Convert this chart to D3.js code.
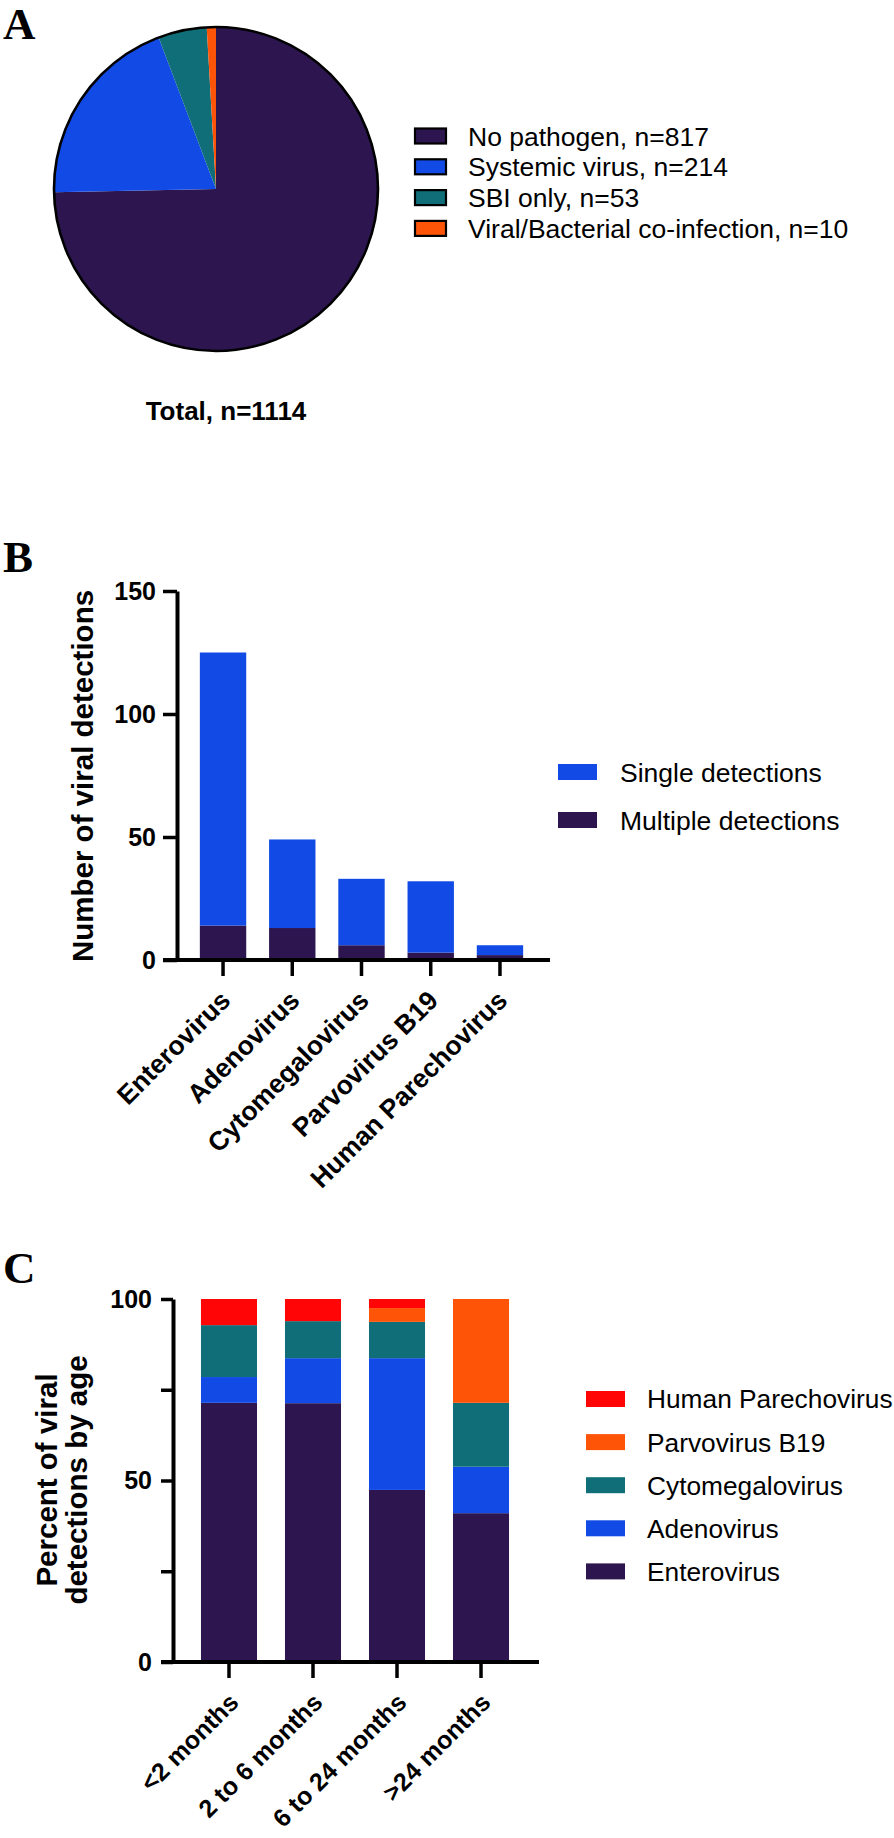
<!DOCTYPE html>
<html><head><meta charset="utf-8">
<script src="https://cdn.jsdelivr.net/npm/d3@7"></script>
<style>body{margin:0;background:#fff} svg{display:block}</style>
</head><body>
<svg id="c" width="894" height="1838"></svg>
<script>
// ---------- data ----------
const pieCategories = ["No pathogen", "Systemic virus", "SBI only", "Viral/Bacterial co-infection"];
const pieCounts = [817, 214, 53, 10];
const pieTotal = 1114;
const pieColors = ["#2d1650", "#124ae6", "#0f6e78", "#fd5408"];

const virusCategories = ["Enterovirus", "Adenovirus", "Cytomegalovirus", "Parvovirus B19", "Human Parechovirus"];
const multipleDetections = [14, 13, 6, 3, 2];
const singleDetections = [111, 36, 27, 29, 4];
const countTicks = [0, 50, 100, 150];
const detectionSeries = ["Multiple detections", "Single detections"];
const detectionColors = ["#2d1650", "#124ae6"];

const ageGroups = ["<2 months", "2 to 6 months", "6 to 24 months", ">24 months"];
const pctEnterovirus = [71.4, 71.3, 47.4, 41.0];
const pctAdenovirus = [7.1, 12.4, 36.3, 12.8];
const pctCytomegalovirus = [14.3, 10.2, 10.0, 17.6];
const pctParvovirusB19 = [0, 0, 3.8, 28.6];
const pctHumanParechovirus = [7.2, 6.1, 2.5, 0];
const ageSeries = ["Enterovirus", "Adenovirus", "Cytomegalovirus", "Parvovirus B19", "Human Parechovirus"];
const ageColors = ["#2d1650", "#124ae6", "#0f6e78", "#fd5408", "#ff0505"];
const percentTicks = [0, 25, 50, 75, 100];
const percentLabels = [0, 50, 100];

// ---------- setup ----------
const svg = d3.select("#c");
const SANS = "'Liberation Sans', Arial, Helvetica, sans-serif";
const SERIF = "'Liberation Serif', 'Times New Roman', serif";

function panelLetter(t, y) {
  svg.append("text").attr("x", 3).attr("y", y).text(t)
    .attr("font-family", SERIF).attr("font-weight", "bold").attr("font-size", 45).attr("fill", "#000");
}

// ---------- Panel A: pie ----------
panelLetter("A", 39);
const cx = 216, cy = 189, R = 162;
const pieGen = d3.pie().sort(null).value(d => d);
const arcGen = d3.arc().innerRadius(0).outerRadius(R);
const gA = svg.append("g").attr("transform", `translate(${cx},${cy})`);
gA.selectAll("path.slice").data(pieGen(pieCounts)).join("path")
  .attr("class", "slice").attr("d", arcGen).attr("fill", (d, i) => pieColors[i]);
gA.append("circle").attr("r", R).attr("fill", "none").attr("stroke", "#000").attr("stroke-width", 2.6);

const legA = svg.append("g");
pieCategories.forEach((c, i) => {
  const yc = 136 + i * 30.8;
  legA.append("rect").attr("x", 415).attr("y", yc - 7.5).attr("width", 31).attr("height", 15)
    .attr("fill", pieColors[i]).attr("stroke", "#000").attr("stroke-width", 2.2);
  legA.append("text").attr("x", 468).attr("y", yc).attr("dy", "0.36em")
    .attr("font-family", SANS).attr("font-size", 26.5).attr("fill", "#000")
    .text(`${c}, n=${pieCounts[i]}`);
});
svg.append("text").attr("x", 226).attr("y", 420).attr("text-anchor", "middle")
  .attr("font-family", SANS).attr("font-weight", "bold").attr("font-size", 26).text(`Total, n=${pieTotal}`);

// ---------- Panel B: stacked counts ----------
panelLetter("B", 572);
const yB = d3.scaleLinear().domain([0, 150]).range([960, 591]);
const xB = d3.scaleBand().domain(virusCategories).range([177, 546]).paddingInner(0.33).paddingOuter(0.33);
const tableB = virusCategories.map((v, i) => ({ cat: v, "Multiple detections": multipleDetections[i], "Single detections": singleDetections[i] }));
const stackB = d3.stack().keys(detectionSeries)(tableB);
const gB = svg.append("g");
stackB.forEach((layer, li) => {
  gB.selectAll(null).data(layer).join("rect")
    .attr("x", d => xB(d.data.cat)).attr("width", xB.bandwidth())
    .attr("y", d => yB(d[1])).attr("height", d => yB(d[0]) - yB(d[1]))
    .attr("fill", detectionColors[li]);
});

function styleAxis(g) {
  g.selectAll("path.domain").attr("stroke", "#000").attr("stroke-width", 4);
  g.selectAll(".tick line").attr("stroke", "#000").attr("stroke-width", 3.5);
  g.selectAll(".tick text").attr("font-family", SANS).attr("font-weight", "bold").attr("font-size", 25).attr("fill", "#000");
}
const yAxB = svg.append("g").attr("transform", "translate(177,0)")
  .call(d3.axisLeft(yB).tickValues(countTicks).tickSize(14).tickSizeOuter(0).tickPadding(7));
styleAxis(yAxB);
svg.append("line").attr("x1", 163).attr("x2", 550).attr("y1", yB(0)).attr("y2", yB(0))
  .attr("stroke", "#000").attr("stroke-width", 4);
const xAxB = svg.append("g").attr("transform", `translate(0,${yB(0)})`)
  .call(d3.axisBottom(xB).tickSize(16).tickSizeOuter(0));
xAxB.select("path.domain").remove();
styleAxis(xAxB);
xAxB.selectAll(".tick text").attr("y", 0).attr("dy", 0).attr("text-anchor", "end")
  .attr("font-size", 26.5).attr("transform", "translate(9,42) rotate(-45)");

svg.append("text").attr("transform", "translate(93,776) rotate(-90)").attr("text-anchor", "middle")
  .attr("font-family", SANS).attr("font-weight", "bold").attr("font-size", 29.5).text("Number of viral detections");

const legB = svg.append("g");
[1, 0].forEach((si, r) => {
  const yc = 772 + r * 48;
  legB.append("rect").attr("x", 558).attr("y", yc - 8).attr("width", 39).attr("height", 16).attr("fill", detectionColors[si]);
  legB.append("text").attr("x", 620).attr("y", yc).attr("dy", "0.36em")
    .attr("font-family", SANS).attr("font-size", 26.5).text(detectionSeries[si]);
});

// ---------- Panel C: percent by age ----------
panelLetter("C", 1283);
const yC = d3.scaleLinear().domain([0, 100]).range([1662, 1299]);
const xC = d3.scaleBand().domain(ageGroups).range([173, 537]).paddingInner(0.333).paddingOuter(0.333);
const seriesVals = [pctEnterovirus, pctAdenovirus, pctCytomegalovirus, pctParvovirusB19, pctHumanParechovirus];
const tableC = ageGroups.map((a, i) => {
  const o = { age: a };
  ageSeries.forEach((s, k) => o[s] = seriesVals[k][i]);
  return o;
});
const stackC = d3.stack().keys(ageSeries)(tableC);
const gC = svg.append("g");
stackC.forEach((layer, li) => {
  gC.selectAll(null).data(layer).join("rect")
    .attr("x", d => xC(d.data.age)).attr("width", xC.bandwidth())
    .attr("y", d => yC(d[1])).attr("height", d => Math.max(0, yC(d[0]) - yC(d[1])))
    .attr("fill", ageColors[li]);
});
const yAxC = svg.append("g").attr("transform", "translate(173,0)")
  .call(d3.axisLeft(yC).tickValues(percentTicks).tickSize(12).tickSizeOuter(0).tickPadding(9)
    .tickFormat(d => percentLabels.includes(d) ? d : ""));
styleAxis(yAxC);
svg.append("line").attr("x1", 161).attr("x2", 539).attr("y1", yC(0)).attr("y2", yC(0))
  .attr("stroke", "#000").attr("stroke-width", 4);
const xAxC = svg.append("g").attr("transform", `translate(0,${yC(0)})`)
  .call(d3.axisBottom(xC).tickSize(16).tickSizeOuter(0));
xAxC.select("path.domain").remove();
styleAxis(xAxC);
xAxC.selectAll(".tick text").attr("y", 0).attr("dy", 0).attr("text-anchor", "end")
  .attr("font-size", 25).attr("transform", "translate(11,42) rotate(-45)");

const yLabC = svg.append("text").attr("transform", "translate(0,1480) rotate(-90)").attr("text-anchor", "middle")
  .attr("font-family", SANS).attr("font-weight", "bold").attr("font-size", 29.5);
yLabC.append("tspan").attr("x", 0).attr("y", 57).text("Percent of viral");
yLabC.append("tspan").attr("x", 0).attr("y", 87).text("detections by age");

const legC = svg.append("g");
ageSeries.slice().reverse().forEach((s, r) => {
  const k = ageSeries.length - 1 - r;
  const yc = 1399 + r * 43.1;
  legC.append("rect").attr("x", 586).attr("y", yc - 8).attr("width", 39).attr("height", 16).attr("fill", ageColors[k]);
  legC.append("text").attr("x", 647).attr("y", yc).attr("dy", "0.36em")
    .attr("font-family", SANS).attr("font-size", 26.3).text(s);
});
</script>
</body></html>
